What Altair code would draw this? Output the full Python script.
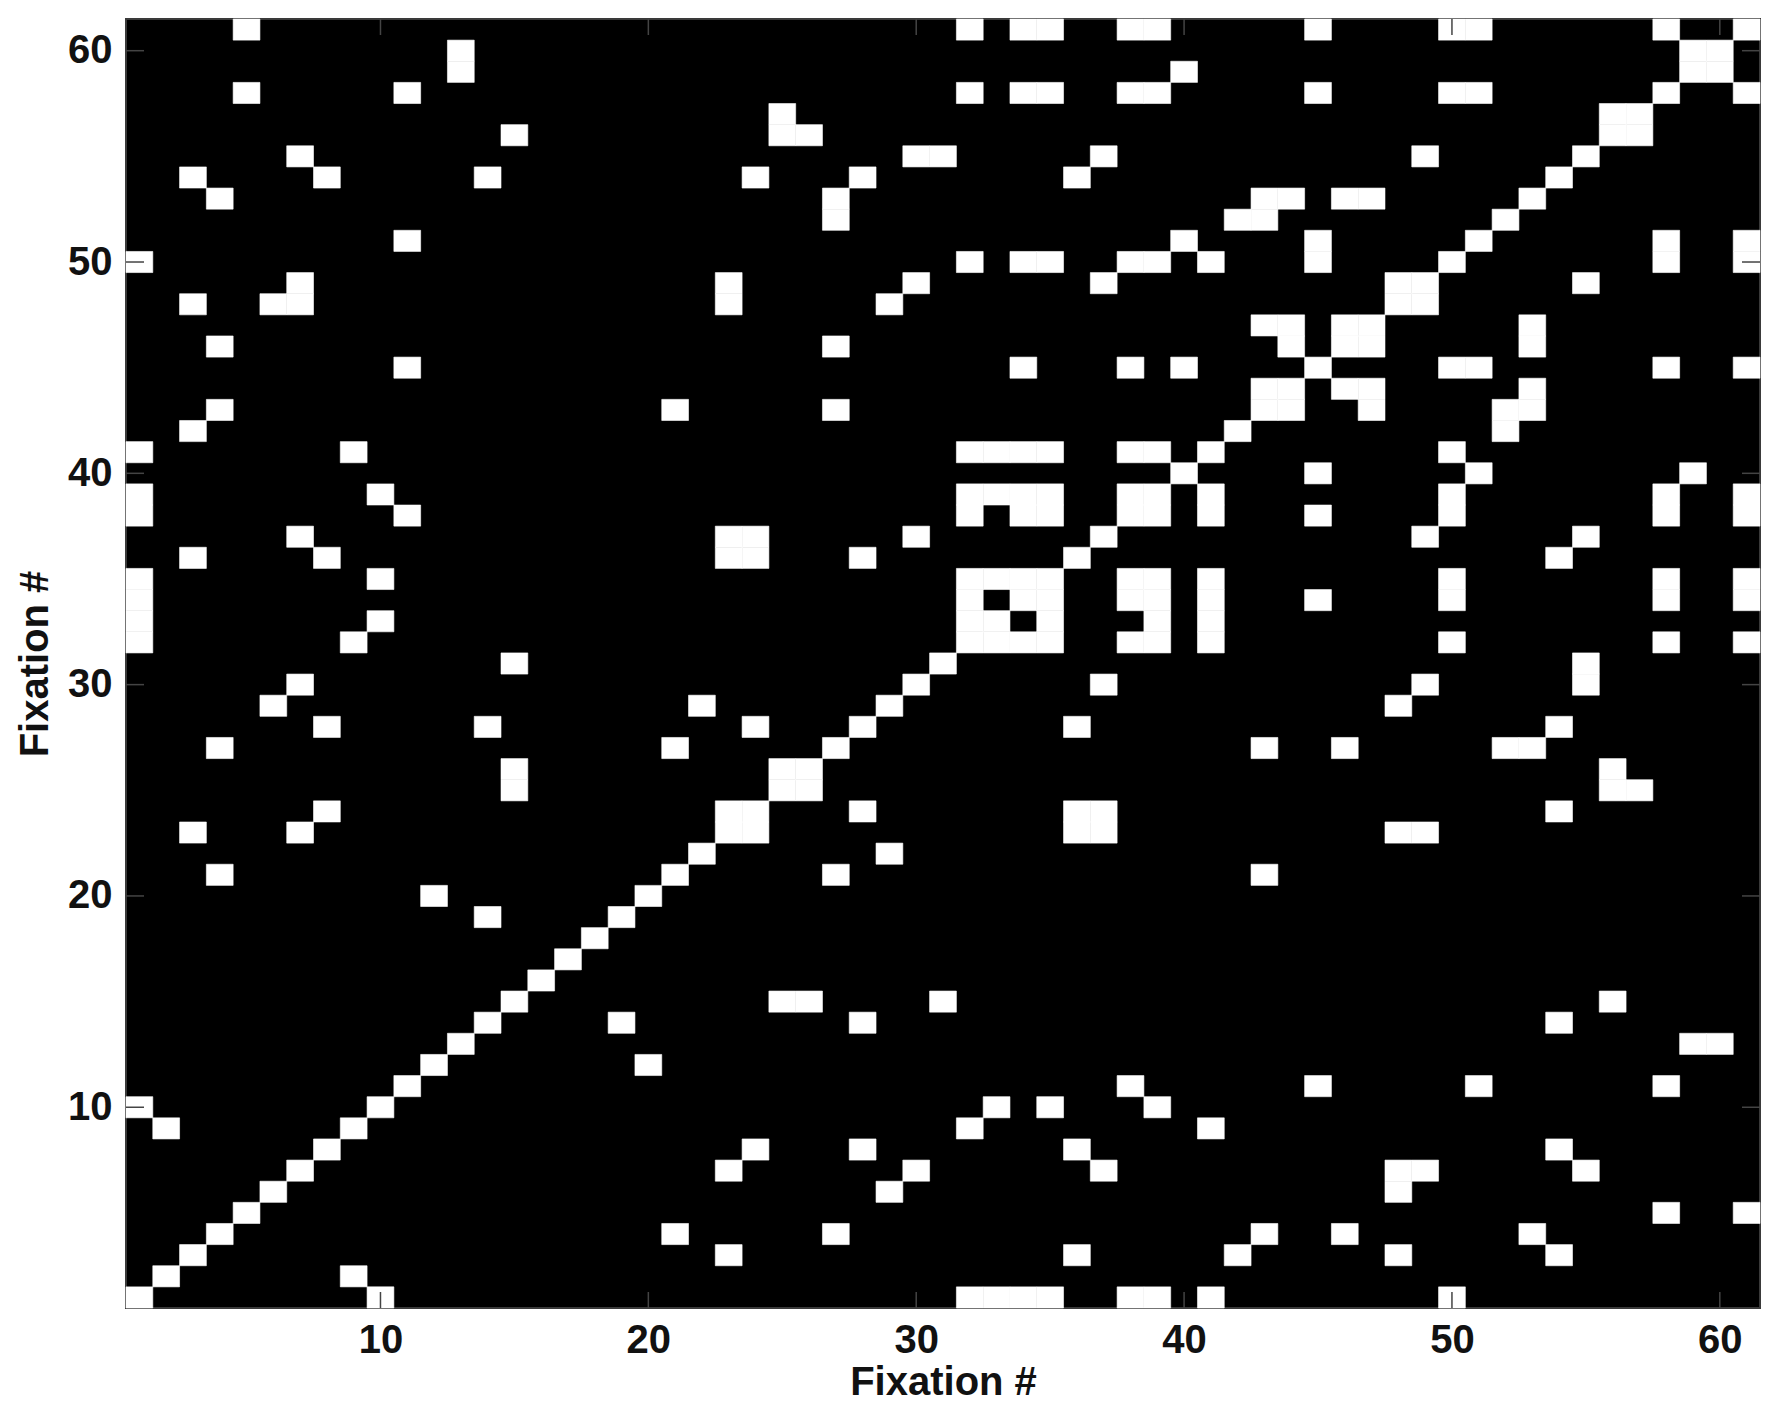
import altair as alt
import pandas as pd

n_fixations = 61
tick_values = [10, 20, 30, 40, 50, 60]
axis_title = "Fixation #"

# The recurrence matrix is symmetric and its main diagonal is fully recurrent.
pair_i = [
    5, 13, 13, 5, 11, 15, 7, 3, 8, 14, 4, 11, 1, 7, 3, 6, 7, 4,
    11, 4, 3, 1, 9, 1, 10, 1, 11, 7, 3, 8, 1, 1, 1, 1, 10, 10, 9, 15, 7,
    6, 8, 14, 4, 15, 15, 8, 3, 7, 4, 12, 14,
    1, 2,
    32, 32, 25, 25, 26, 30, 31, 24, 28, 27, 27, 32, 30, 23, 23, 29, 27,
    21, 27, 32, 32, 32, 23, 24, 23, 24, 28, 30, 32, 32, 32,
    22, 24, 21, 25, 23,
    34, 35, 38, 39, 45, 40, 34, 35, 38, 39, 45, 37, 36, 43, 44, 46, 47,
    42, 43, 45, 45, 40, 34, 35, 38, 39, 41, 37, 48, 46, 43, 44, 44,
    34, 38, 40, 43, 33, 34, 35, 38, 39, 33, 34, 35, 38, 34, 35, 33, 34,
    50, 51, 58, 59, 56, 49, 50, 51,
]
pair_j = [
    61, 60, 59, 58, 58, 56, 55, 54, 54, 54, 53, 51, 50, 49, 48, 48, 48, 46,
    45, 43, 42, 41, 41, 39, 39, 38, 38, 37, 36, 36, 35, 34, 33, 32, 35, 33, 32, 31, 30,
    29, 28, 28, 27, 26, 25, 24, 23, 23, 21, 20, 19,
    10, 9,
    61, 58, 57, 56, 56, 55, 55, 54, 54, 53, 52, 50, 49, 49, 48, 48, 46,
    43, 43, 41, 39, 38, 37, 37, 36, 36, 36, 37, 35, 34, 33,
    29, 28, 27, 26, 24,
    61, 61, 61, 61, 61, 59, 58, 58, 58, 58, 58, 55, 54, 53, 53, 53, 53,
    52, 52, 51, 50, 51, 50, 50, 50, 50, 50, 49, 49, 47, 47, 47, 46,
    45, 45, 45, 44, 41, 41, 41, 41, 41, 39, 39, 39, 39, 38, 38, 35, 35,
    61, 61, 61, 60, 57, 55, 58, 58,
]

records = [{"fx": k, "fy": k} for k in range(1, n_fixations + 1)]
for a, b in zip(pair_i, pair_j):
    records.append({"fx": a, "fy": b})
    records.append({"fx": b, "fy": a})
df = pd.DataFrame(records).drop_duplicates()
ticks_df = pd.DataFrame({"x0": tick_values, "y0": tick_values})

W, H = 1634, 1289
FONT = "Liberation Sans"
TXT = "#111111"

xs = alt.Scale(domain=[0.5, n_fixations + 0.5], nice=False, zero=False)
ys = alt.Scale(domain=[0.5, n_fixations + 0.5], nice=False, zero=False)

common_axis = dict(
    values=tick_values, ticks=False, tickSize=0, domain=False, grid=False,
    labelFont=FONT, labelFontSize=40, labelFontWeight="bold", labelColor=TXT,
    labelFlush=False, labelOverlap=False, format="d",
    titleFont=FONT, titleFontSize=40, titleFontWeight="bold", titleColor=TXT,
)

x_axis = alt.Axis(title=axis_title, labelPadding=12, titleY=86,
                  titleBaseline="alphabetic", **common_axis)
y_axis = alt.Axis(title=axis_title, labelPadding=14, titleX=-79, titleY=H / 2,
                  titleAngle=270, titleBaseline="alphabetic", titleAlign="center",
                  **common_axis)

cells = alt.Chart(df).mark_rect(color="white", stroke="white", strokeWidth=0.6).transform_calculate(
    x0="datum.fx - 0.5", x1="datum.fx + 0.5",
    y0="datum.fy - 0.5", y1="datum.fy + 0.5",
).encode(
    x=alt.X("x0:Q", scale=xs, axis=x_axis),
    x2="x1:Q",
    y=alt.Y("y0:Q", scale=ys, axis=y_axis),
    y2="y1:Q",
)

tick_color = "#444444"
bottom_ticks = alt.Chart(ticks_df).mark_rule(color=tick_color, strokeWidth=1.5).encode(
    x=alt.X("x0:Q", scale=xs, axis=x_axis), y=alt.value(H), y2=alt.value(H - 16))
top_ticks = alt.Chart(ticks_df).mark_rule(color=tick_color, strokeWidth=1.5).encode(
    x=alt.X("x0:Q", scale=xs, axis=x_axis), y=alt.value(0), y2=alt.value(16))
left_ticks = alt.Chart(ticks_df).mark_rule(color=tick_color, strokeWidth=1.5).encode(
    y=alt.Y("y0:Q", scale=ys, axis=y_axis), x=alt.value(0), x2=alt.value(18))
right_ticks = alt.Chart(ticks_df).mark_rule(color=tick_color, strokeWidth=1.5).encode(
    y=alt.Y("y0:Q", scale=ys, axis=y_axis), x=alt.value(W), x2=alt.value(W - 18))

chart = alt.layer(cells, bottom_ticks, top_ticks, left_ticks, right_ticks).properties(
    width=W, height=H,
    autosize=alt.AutoSizeParams(type="none"),
    padding={"left": 118, "top": 11, "right": 10, "bottom": 100},
    background="white",
).configure_view(fill="black", stroke="#3a3a3a", strokeWidth=2)

chart.save("out.html", embed_options={"renderer": "svg", "actions": False})
